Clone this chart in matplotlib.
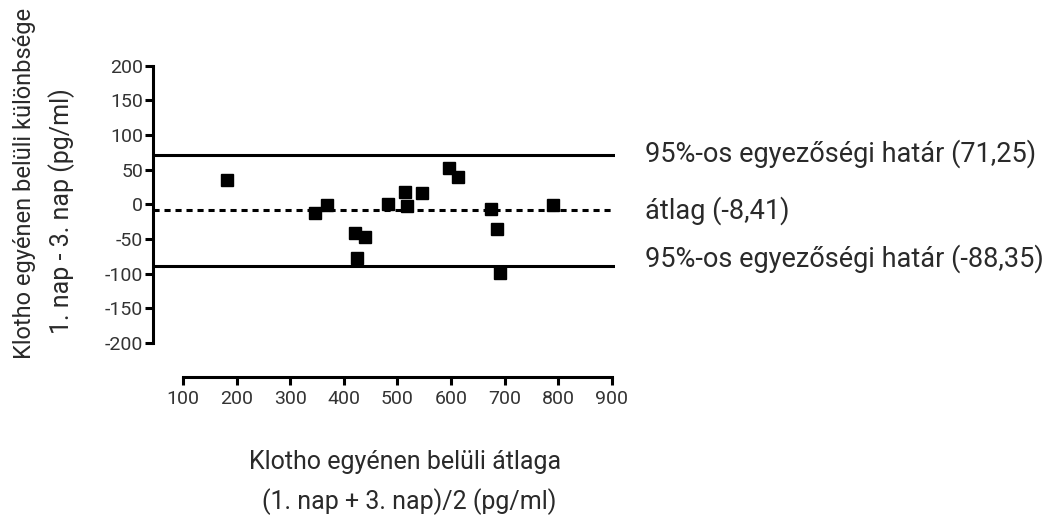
import matplotlib
matplotlib.use("Agg")
import matplotlib.pyplot as plt

plt.rcParams["axes.unicode_minus"] = False

# Data
mean_x = [182, 346, 368, 421, 440, 424, 482, 514, 517, 545, 597, 614, 674, 685, 692, 791]
diff_y = [35, -13, -1, -42, -47, -78, 1, 18, -3, 16, 53, 40, -6, -35, -99, -1]
upper_loa = 71.25
bias = -8.41
lower_loa = -88.35
x_ticks = [100, 200, 300, 400, 500, 600, 700, 800, 900]
y_ticks = [-200, -150, -100, -50, 0, 50, 100, 150, 200]
label_upper = "95%-os egyezőségi határ (71,25)"
label_bias = "átlag (-8,41)"
label_lower = "95%-os egyezőségi határ (-88,35)"
xlabel_1 = "Klotho egyénen belüli átlaga"
xlabel_2 = "(1. nap + 3. nap)/2 (pg/ml)"
ylabel_1 = "Klotho egyénen belüli különbsége"
ylabel_2 = "1. nap - 3. nap (pg/ml)"

W, H = 1059, 517
fig = plt.figure(figsize=(W / 100, H / 100), dpi=100)
ax = fig.add_axes([153 / W, 1 - 377 / H, (615 - 153) / W, (377 - 65.7) / H])

ax.set_xlim(44, 906)
ax.set_ylim(-249, 200)

lw = 2.2
ax.axhline(upper_loa, color="black", lw=lw)
ax.axhline(lower_loa, color="black", lw=lw)
ax.axhline(bias, color="black", lw=lw, linestyle=(0, (2.0, 1.6)))
ax.plot(mean_x, diff_y, "s", color="black", ms=8, zorder=3, clip_on=False)

for s in ["top", "right"]:
    ax.spines[s].set_visible(False)
ax.spines["left"].set_bounds(-200, 200)
ax.spines["bottom"].set_bounds(100, 900)
ax.spines["left"].set_linewidth(lw)
ax.spines["bottom"].set_linewidth(lw)

txt_font = ["Roboto", "DejaVu Sans"]
ax.set_xticks(x_ticks)
ax.set_yticks(y_ticks)
tick_color = "#333333"
ax.tick_params(axis="both", width=lw, length=6, labelsize=14, labelcolor=tick_color, color="black")
ax.tick_params(axis="y", pad=1)
ax.tick_params(axis="x", pad=3)
for lab in ax.get_xticklabels() + ax.get_yticklabels():
    lab.set_family(txt_font)

txt_color = "#2a2a2a"
fx = 645 / W
fig.text(fx, 1 - 153.5 / H, label_upper, fontsize=19.5, family=txt_font, color=txt_color, va="center", ha="left")
fig.text(fx, 1 - 211 / H, label_bias, fontsize=19.5, family=txt_font, color=txt_color, va="center", ha="left")
fig.text(fx, 1 - 258.5 / H, label_lower, fontsize=19.5, family=txt_font, color=txt_color, va="center", ha="left")

fig.text(405 / W, 1 - 462 / H, xlabel_1, fontsize=18, family=txt_font, color=txt_color, va="center", ha="center")
fig.text(409 / W, 1 - 502 / H, xlabel_2, fontsize=18, family=txt_font, color=txt_color, va="center", ha="center")

fig.text(25 / W, 1 - 183 / H, ylabel_1, fontsize=17, family=txt_font, color=txt_color, va="center", ha="center", rotation=90)
fig.text(62 / W, 1 - 211 / H, ylabel_2, fontsize=18, family=txt_font, color=txt_color, va="center", ha="center", rotation=90)

fig.savefig("out.png", dpi=100, facecolor="white")
